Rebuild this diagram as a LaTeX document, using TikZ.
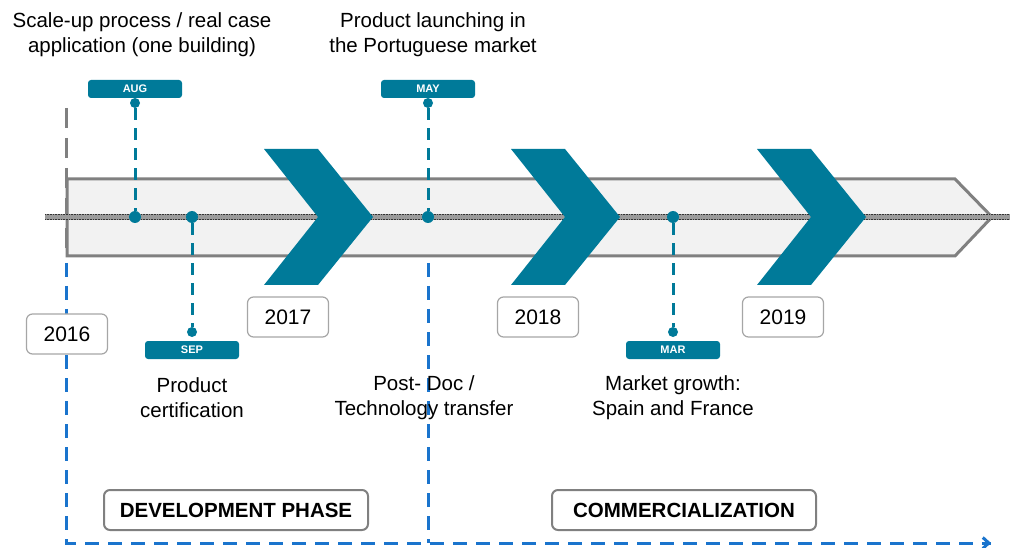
\documentclass[tikz,border=0pt]{standalone}
\usepackage{fontspec}
\setmainfont{Liberation Sans}
\usetikzlibrary{arrows.meta,calc}
\definecolor{tealc}{RGB}{0,122,153}
\definecolor{bluec}{RGB}{26,116,205}
\definecolor{bandfill}{RGB}{242,242,242}
\definecolor{bandline}{RGB}{128,128,128}
\definecolor{axisgray}{RGB}{155,155,155}
\tikzset{
  tagbox/.style={fill=tealc, rounded corners=3pt, minimum width=94pt, minimum height=18pt, inner sep=0pt, text=white, font=\bfseries\fontsize{11}{12}\selectfont},
  bigdot/.style={circle, fill=tealc, minimum size=12pt, inner sep=0pt},
  smalldot/.style={circle, fill=tealc, minimum size=10pt, inner sep=0pt},
  tealdash/.style={draw=tealc, line width=3pt, dash pattern=on 12pt off 8pt},
  bluedash/.style={draw=bluec, line width=3pt, dash pattern=on 14pt off 9pt},
  yearbox/.style={draw=gray!70, line width=1.2pt, fill=white, rounded corners=6pt, minimum width=81pt, minimum height=40pt, inner sep=0pt, font=\fontsize{21}{25}\selectfont},
  phasebox/.style={draw=bandline, line width=2pt, fill=white, rounded corners=6pt, minimum width=264pt, minimum height=40pt, inner sep=0pt, font=\bfseries\fontsize{20.5}{24}\selectfont},
  label/.style={align=center, font=\fontsize{20.5}{25}\selectfont, inner sep=0pt},
  chev/.style={fill=tealc, draw=none}
}
\begin{document}
\begin{tikzpicture}[x=1pt,y=-1pt]
\useasboundingbox (0,0) rectangle (1010,548);
% dashed frame lines (behind)
\coordinate (gtop) at (66,108);
\coordinate (gbot) at (66,258);
\coordinate (btop) at (66,263);
\coordinate (bcorner) at (66,543);
\coordinate (bend) at (991,543);
\coordinate (bpre) at (984,543);
\coordinate (mtop) at (428,263);
\coordinate (mbot) at (428,543);
\draw[draw=bandline, line width=3pt, dash pattern=on 20pt off 10pt] (gtop) -- (gbot);
\draw[bluedash] (btop) -- (bcorner) -- (bend);
\draw[draw=bluec, line width=3pt, -{Straight Barb[length=6pt,width=11pt]}] (bpre) -- (bend);
\draw[bluedash] (mtop) -- (mbot);
% band
\draw[fill=bandfill, draw=bandline, line width=3pt, line join=miter]
  (67,179) -- (955,179) -- (992,217) -- (955,256) -- (67,256) -- cycle;
% axis line
\coordinate (axl) at (45,217);
\coordinate (axr) at (1010,217);
\draw[axisgray, line width=5.5pt] (axl) -- (axr);
\draw[gray!40!black, line width=0.6pt, densely dotted] (45,214.5) -- (1010,214.5);
\draw[gray!40!black, line width=0.6pt, densely dotted] (45,219.5) -- (1010,219.5);
% chevrons
\foreach \n in {318,565,811}{
  \fill[chev] (\n-54,149) -- (\n,149) -- (\n+55,217) -- (\n,285) -- (\n-54,285) -- (\n,217) -- cycle;
}
% events above
\node[tagbox] (aug) at (135,89) {AUG};
\node[smalldot] (augd) at (135,103) {};
\node[bigdot] (augc) at (135,217) {};
\draw[tealdash] (augd) -- (augc);
\node[tagbox] (may) at (428,89) {MAY};
\node[smalldot] (mayd) at (428,103) {};
\node[bigdot] (mayc) at (428,217) {};
\draw[tealdash] (mayd) -- (mayc);
% events below
\node[bigdot] (sepc) at (192,217) {};
\node[smalldot] (sepd) at (192,332) {};
\draw[tealdash] (sepc) -- (sepd);
\node[tagbox] (sep) at (192,350) {SEP};
\node[bigdot] (marc) at (673,217) {};
\node[smalldot] (mard) at (673,332) {};
\draw[tealdash] (marc) -- (mard);
\node[tagbox] (mar) at (673,350) {MAR};
% year boxes
\node[yearbox] (y2016) at (67,334) {2016};
\node[yearbox] (y2017) at (288,317) {2017};
\node[yearbox] (y2018) at (538,317) {2018};
\node[yearbox] (y2019) at (783,317) {2019};
% texts
\node[label] (scale) at (142,35) {Scale-up process / real case\\application (one building)};
\node[label] (launch) at (433,35) {Product launching in\\the Portuguese market};
\node[label] (cert) at (192,398) {Product\\certification};
\node[label] (postdoc) at (424,398) {Post- Doc /\\Technology transfer};
\node[label] (market) at (673,398) {Market growth:\\Spain and France};
% phase boxes
\node[phasebox] (dev) at (236,510) {DEVELOPMENT PHASE};
\node[phasebox] (com) at (684,510) {COMMERCIALIZATION};
\end{tikzpicture}
\end{document}
